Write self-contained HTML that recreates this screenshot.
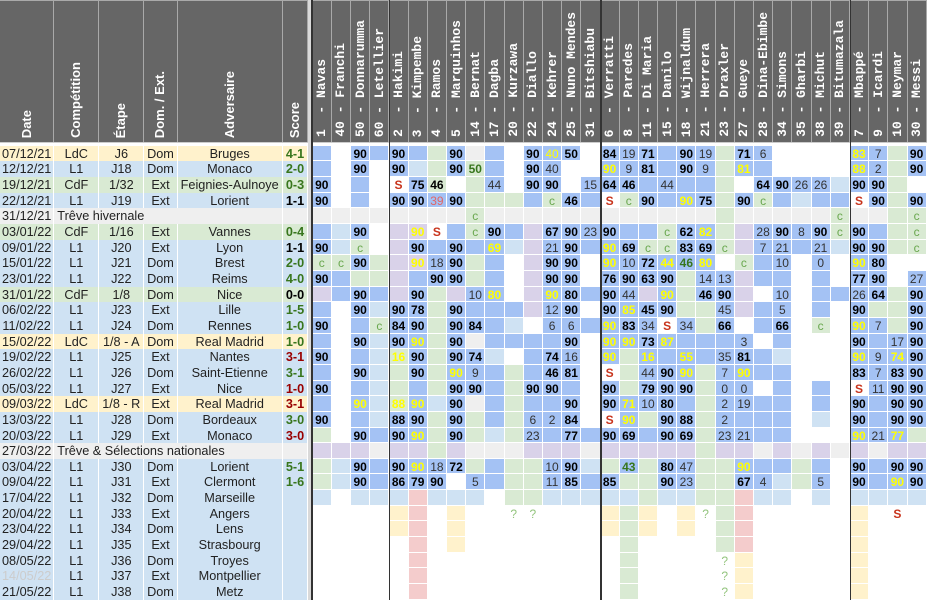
<!DOCTYPE html>
<html><head><meta charset="utf-8"><style>
*{margin:0;padding:0;box-sizing:border-box}
body{width:927px;height:600px;position:relative;overflow:hidden;background:#fff;font-family:"Liberation Sans",Arial,sans-serif}
.hd{position:absolute;top:0;height:142px;background:#666;border-top:1px solid #aaa;border-right:1px solid #a9a9a9;display:flex;justify-content:center;align-items:flex-end;padding-bottom:4px}
.hd span{writing-mode:vertical-rl;transform:rotate(180deg);color:#fff;font-weight:bold;font-size:13px;line-height:14px;white-space:pre}
#ph{position:absolute;left:312.7px;top:0;display:grid;grid-template-columns:repeat(32,19.2px)}
#ph div{height:142px;background:#666;border-top:1px solid #aaa;border-right:1px solid #a9a9a9;display:flex;justify-content:center;align-items:flex-end;padding-bottom:5px}
#ph span{writing-mode:vertical-rl;transform:rotate(180deg);color:#fff;font:bold 13px/13px "Liberation Mono",monospace;white-space:pre}
#lt{position:absolute;left:0;top:145.7px;width:308.3px}
#lt .r{display:grid;grid-template-columns:54.3px 45px 45px 33.4px 105px 25.6px;height:15.67px}
#lt i{font-style:normal;border-right:1px solid #fff;border-bottom:1px solid #fff;text-align:center;font-size:12.7px;line-height:16.3px;color:#222;white-space:nowrap;overflow:visible}
#lt .y i{background:#fff2cc}#lt .l i{background:#cfe2f3}#lt .g i{background:#d9ead3}#lt .e i{background:#efefef}
#lt i.t{grid-column:span 4;text-align:left;padding-left:3px}
#lt i.W{color:#38761d;font-weight:bold}#lt i.D{color:#000;font-weight:bold}#lt i.L{color:#990000;font-weight:bold}
#gd{position:absolute;left:312.7px;top:145.7px}
#gd .r{display:grid;grid-template-columns:repeat(32,19.2px);height:15.67px}
#gd i{font-style:normal;font-weight:bold;font-size:12px;line-height:16.3px;text-align:center;color:#000;border-right:1px solid #fff;border-bottom:1px solid #fff;overflow:hidden;white-space:nowrap;background:#fff}
#gd i.b{background:#a4c2f4}#gd i.l{background:#cfe2f3}#gd i.g{background:#d9ead3}#gd i.p{background:#d9d2e9}#gd i.e{background:#efefef}#gd i.k{background:#f4cccc}#gd i.y{background:#fff2cc}
#gd i.n{font-weight:normal;color:#333}
#gd i.Y{color:#ffff00}
#gd i.Yn{color:#ffff00;font-weight:normal}
#gd i.G{color:#38761d}
#gd i.R{color:#e06666;font-weight:normal}
#gd i.S{color:#c8341c}
#gd i.c{color:#6aa84f;font-weight:normal}
#gd i.q{color:#93c47d;font-weight:normal}
.ln{position:absolute;top:0;height:600px}
</style></head><body>
<div class="hd" style="left:0;width:54.3px"><span>Date</span></div>
<div class="hd" style="left:54.3px;width:45px"><span>Compétition</span></div>
<div class="hd" style="left:99.3px;width:45px"><span>Étape</span></div>
<div class="hd" style="left:144.3px;width:33.4px"><span>Dom. / Ext.</span></div>
<div class="hd" style="left:177.7px;width:105px"><span>Adversaire</span></div>
<div class="hd" style="left:282.7px;width:25.6px"><span>Score</span></div>
<div id="ph">
<div><span>1  - Navas</span></div><div><span>40 - Franchi</span></div><div><span>50 - Donnarumma</span></div><div><span>60 - Letellier</span></div>
<div><span>2  - Hakimi</span></div><div><span>3  - Kimpembe</span></div><div><span>4  - Ramos</span></div><div><span>5  - Marquinhos</span></div><div><span>14 - Bernat</span></div><div><span>17 - Dagba</span></div><div><span>20 - Kurzawa</span></div><div><span>22 - Diallo</span></div><div><span>24 - Kehrer</span></div><div><span>25 - Nuno Mendes</span></div><div><span>31 - Bitshiabu</span></div>
<div><span>6  - Verratti</span></div><div><span>8  - Paredes</span></div><div><span>11 - Di Maria</span></div><div><span>15 - Danilo</span></div><div><span>18 - Wijnaldum</span></div><div><span>21 - Herrera</span></div><div><span>23 - Draxler</span></div><div><span>27 - Gueye</span></div><div><span>28 - Dina-Ebimbe</span></div><div><span>34 - Simons</span></div><div><span>35 - Gharbi</span></div><div><span>38 - Michut</span></div><div><span>39 - Bitumazala</span></div>
<div><span>7  - Mbappé</span></div><div><span>9  - Icardi</span></div><div><span>10 - Neymar</span></div><div><span>30 - Messi</span></div>
</div>
<div style="position:absolute;left:0;top:142px;width:927px;height:1px;background:#ccc"></div>

<div id="lt">
<div class="r y"><i>07/12/21</i><i>LdC</i><i>J6</i><i>Dom</i><i>Bruges</i><i class="W">4-1</i></div>
<div class="r l"><i>12/12/21</i><i>L1</i><i>J18</i><i>Dom</i><i>Monaco</i><i class="W">2-0</i></div>
<div class="r g"><i>19/12/21</i><i>CdF</i><i>1/32</i><i>Ext</i><i>Feignies-Aulnoye</i><i class="W">0-3</i></div>
<div class="r l"><i>22/12/21</i><i>L1</i><i>J19</i><i>Ext</i><i>Lorient</i><i class="D">1-1</i></div>
<div class="r e"><i>31/12/21</i><i class="t">Trêve hivernale</i><i></i></div>
<div class="r g"><i>03/01/22</i><i>CdF</i><i>1/16</i><i>Ext</i><i>Vannes</i><i class="W">0-4</i></div>
<div class="r l"><i>09/01/22</i><i>L1</i><i>J20</i><i>Ext</i><i>Lyon</i><i class="D">1-1</i></div>
<div class="r l"><i>15/01/22</i><i>L1</i><i>J21</i><i>Dom</i><i>Brest</i><i class="W">2-0</i></div>
<div class="r l"><i>23/01/22</i><i>L1</i><i>J22</i><i>Dom</i><i>Reims</i><i class="W">4-0</i></div>
<div class="r g"><i>31/01/22</i><i>CdF</i><i>1/8</i><i>Dom</i><i>Nice</i><i class="D">0-0</i></div>
<div class="r l"><i>06/02/22</i><i>L1</i><i>J23</i><i>Ext</i><i>Lille</i><i class="W">1-5</i></div>
<div class="r l"><i>11/02/22</i><i>L1</i><i>J24</i><i>Dom</i><i>Rennes</i><i class="W">1-0</i></div>
<div class="r y"><i>15/02/22</i><i>LdC</i><i>1/8 - A</i><i>Dom</i><i>Real Madrid</i><i class="W">1-0</i></div>
<div class="r l"><i>19/02/22</i><i>L1</i><i>J25</i><i>Ext</i><i>Nantes</i><i class="L">3-1</i></div>
<div class="r l"><i>26/02/22</i><i>L1</i><i>J26</i><i>Dom</i><i>Saint-Etienne</i><i class="W">3-1</i></div>
<div class="r l"><i>05/03/22</i><i>L1</i><i>J27</i><i>Ext</i><i>Nice</i><i class="L">1-0</i></div>
<div class="r y"><i>09/03/22</i><i>LdC</i><i>1/8 - R</i><i>Ext</i><i>Real Madrid</i><i class="L">3-1</i></div>
<div class="r l"><i>13/03/22</i><i>L1</i><i>J28</i><i>Dom</i><i>Bordeaux</i><i class="W">3-0</i></div>
<div class="r l"><i>20/03/22</i><i>L1</i><i>J29</i><i>Ext</i><i>Monaco</i><i class="L">3-0</i></div>
<div class="r e"><i>27/03/22</i><i class="t">Trêve &amp; Sélections nationales</i><i></i></div>
<div class="r l"><i>03/04/22</i><i>L1</i><i>J30</i><i>Dom</i><i>Lorient</i><i class="W">5-1</i></div>
<div class="r l"><i>09/04/22</i><i>L1</i><i>J31</i><i>Ext</i><i>Clermont</i><i class="W">1-6</i></div>
<div class="r l"><i>17/04/22</i><i>L1</i><i>J32</i><i>Dom</i><i>Marseille</i><i></i></div>
<div class="r l"><i>20/04/22</i><i>L1</i><i>J33</i><i>Ext</i><i>Angers</i><i></i></div>
<div class="r l"><i>23/04/22</i><i>L1</i><i>J34</i><i>Dom</i><i>Lens</i><i></i></div>
<div class="r l"><i>29/04/22</i><i>L1</i><i>J35</i><i>Ext</i><i>Strasbourg</i><i></i></div>
<div class="r l"><i>08/05/22</i><i>L1</i><i>J36</i><i>Dom</i><i>Troyes</i><i></i></div>
<div class="r l"><i style="color:#ccc">14/05/22</i><i>L1</i><i>J37</i><i>Ext</i><i>Montpellier</i><i></i></div>
<div class="r l"><i>21/05/22</i><i>L1</i><i>J38</i><i>Dom</i><i>Metz</i><i></i></div>
</div>

<div id="gd">
<div class="r"><i class=b></i><i></i><i class=b>90</i><i class=b></i><i class=b>90</i><i class=b></i><i class=g></i><i class=b>90</i><i class=e></i><i class=b></i><i></i><i class=b>90</i><i class="b Yn">40</i><i class=b>50</i><i></i><i class=b>84</i><i class="b n">19</i><i class=b>71</i><i class=b></i><i class=b>90</i><i class="b n">19</i><i class=g></i><i class=b>71</i><i class="b n">6</i><i></i><i></i><i></i><i></i><i class="b Y">83</i><i class="b n">7</i><i class=g></i><i class=b>90</i></div>
<div class="r"><i class=b></i><i></i><i class=b>90</i><i></i><i class=b>90</i><i class=l></i><i class=g></i><i class=b>90</i><i class="g G">50</i><i class=b></i><i></i><i class=b>90</i><i class="b n">40</i><i></i><i></i><i class="b Y">90</i><i class="b n">9</i><i class=b>81</i><i class=b></i><i class=b>90</i><i class="b n">9</i><i class=g></i><i class="b Y">81</i><i class=b></i><i></i><i></i><i></i><i></i><i class="b Y">88</i><i class="b n">2</i><i class=g></i><i class=b>90</i></div>
<div class="r"><i class=b>90</i><i></i><i class=b></i><i></i><i class=S>S</i><i class=b>75</i><i class=g>46</i><i></i><i class=g></i><i class="b n">44</i><i></i><i class=b>90</i><i class=b>90</i><i></i><i class="b n">15</i><i class=b>64</i><i class=b>46</i><i class=b></i><i class="b n">44</i><i class=b></i><i class=b></i><i class=g></i><i></i><i class=b>64</i><i class=b>90</i><i class="b n">26</i><i class="b n">26</i><i class=l></i><i class=b>90</i><i class=b>90</i><i class=g></i><i></i></div>
<div class="r"><i class=b>90</i><i></i><i class=b></i><i></i><i class=b>90</i><i class=b>90</i><i class="b R">39</i><i class=b>90</i><i class=g></i><i class=g></i><i class=g></i><i class=b></i><i class="g c">c</i><i class=b>46</i><i class=b></i><i class=S>S</i><i class="g c">c</i><i class=b>90</i><i class=b></i><i class="b Y">90</i><i class=b>75</i><i class=g></i><i class=b>90</i><i class="g c">c</i><i class=b></i><i class=l></i><i class=b></i><i class=b></i><i class=S>S</i><i class=b>90</i><i class=g></i><i class=b>90</i></div>
<div class="r"><i class=e></i><i class=e></i><i class=e></i><i class=e></i><i class=e></i><i class=e></i><i class=e></i><i class=e></i><i class="g c">c</i><i class=e></i><i class=e></i><i class=e></i><i class=e></i><i class=e></i><i class=e></i><i class=e></i><i class=e></i><i class=e></i><i class=e></i><i class=e></i><i class=e></i><i class=g></i><i class=e></i><i class=e></i><i class=e></i><i class=e></i><i class=e></i><i class="g c">c</i><i class=e></i><i class=e></i><i class=g></i><i class="g c">c</i></div>
<div class="r"><i class=b></i><i class=l></i><i class=b>90</i><i></i><i class=p></i><i class="p Y">90</i><i class=S>S</i><i class=b></i><i class="g c">c</i><i class=b>90</i><i class=b></i><i class=p></i><i class=b>67</i><i class=b>90</i><i class="b n">23</i><i class=b>90</i><i class=b></i><i class=b></i><i class="g c">c</i><i class=b>62</i><i class="b Y">82</i><i class=g></i><i class=p></i><i class="b n">28</i><i class=b>90</i><i class="b n">8</i><i class=b>90</i><i class="g c">c</i><i class=b>90</i><i class=b></i><i class=g></i><i class="g c">c</i></div>
<div class="r"><i class=b>90</i><i class=l></i><i class="g c">c</i><i></i><i class=p></i><i class=b>90</i><i class=b></i><i class=b>90</i><i class=b></i><i class="b Y">69</i><i class=l></i><i class=p></i><i class="b n">21</i><i class=b>90</i><i class=b></i><i class="b Y">90</i><i class=b>69</i><i class="g c">c</i><i class="g c">c</i><i class=b>83</i><i class=b>69</i><i class="g c">c</i><i class=p></i><i class="b n">7</i><i class="b n">21</i><i class=b></i><i class="b n">21</i><i class=l></i><i class=b>90</i><i class=b>90</i><i class=g></i><i class="g c">c</i></div>
<div class="r"><i class="g c">c</i><i class="g c">c</i><i class=b>90</i><i class=g></i><i class=p></i><i class="p Y">90</i><i class="b n">18</i><i class=b>90</i><i class=g></i><i class=b></i><i></i><i class=p></i><i class=b>90</i><i class=b>90</i><i></i><i class="b Y">90</i><i class="b n">10</i><i class=b>72</i><i class="b Y">44</i><i class="b G">46</i><i class="b Y">80</i><i></i><i class="g c">c</i><i class=b></i><i class="b n">10</i><i></i><i class="b n">0</i><i></i><i class="b Y">90</i><i class=b>80</i><i></i><i></i></div>
<div class="r"><i class=b>90</i><i class=b></i><i class=g></i><i class=g></i><i class=p></i><i class=b></i><i class=b>90</i><i class=b>90</i><i class=g></i><i class=b></i><i></i><i class=p></i><i class=b>90</i><i class=b>90</i><i></i><i class=b>76</i><i class=b>90</i><i class=b>63</i><i class=b>90</i><i class=g></i><i class="b n">14</i><i class="b n">13</i><i class=p></i><i class=b></i><i class=b></i><i></i><i class=b></i><i></i><i class=b>77</i><i class=b>90</i><i></i><i class="b n">27</i></div>
<div class="r"><i class=p></i><i class=b></i><i class=b>90</i><i class=b></i><i class=p></i><i class=b>90</i><i class=g></i><i class=p></i><i class="b n">10</i><i class="b Y">80</i><i></i><i class=p></i><i class="b Y">90</i><i class=b>80</i><i class=b></i><i class=b>90</i><i class="b n">44</i><i class=p></i><i class="b Y">90</i><i class=g></i><i class=b>46</i><i class=b>90</i><i class=p></i><i></i><i class="b n">10</i><i></i><i class=b></i><i class=b></i><i class="b n">26</i><i class=b>64</i><i class=g></i><i class=b>90</i></div>
<div class="r"><i class=b></i><i></i><i class=b>90</i><i class=l></i><i class=b>90</i><i class=b>78</i><i class=g></i><i class=b>90</i><i class=b></i><i class=b></i><i class=b></i><i class=p></i><i class="b n">12</i><i class=b>90</i><i></i><i class=b>90</i><i class="b Y">85</i><i class=b>45</i><i class=b>90</i><i class=g></i><i class=g></i><i class="b n">45</i><i class=p></i><i class=b></i><i class="b n">5</i><i></i><i class=b></i><i></i><i class=b>90</i><i class=g></i><i class=g></i><i class=b>90</i></div>
<div class="r"><i class=b>90</i><i></i><i class=b></i><i class="g c">c</i><i class=b>84</i><i class=b>90</i><i class=g></i><i class=b>90</i><i class=b>84</i><i class=b></i><i class=l></i><i></i><i class="b n">6</i><i class="b n">6</i><i class=b></i><i class="b Y">90</i><i class=b>83</i><i class="b n">34</i><i class=S>S</i><i class="b n">34</i><i class=g></i><i class=b>66</i><i></i><i class=b></i><i class=b>66</i><i></i><i class="g c">c</i><i></i><i class="b Y">90</i><i class="b n">7</i><i class=g></i><i class=b>90</i></div>
<div class="r"><i class=b></i><i></i><i class=b>90</i><i class=l></i><i class=b>90</i><i class="b Y">90</i><i class=g></i><i class=b>90</i><i class=e></i><i class=b></i><i class=b></i><i class=b></i><i class=b></i><i class=b>90</i><i></i><i class="b Y">90</i><i class="b Y">90</i><i class=b>73</i><i class="b Y">87</i><i class=b></i><i class=b></i><i class=b></i><i class="b n">3</i><i></i><i class=b></i><i></i><i></i><i></i><i class=b>90</i><i class=b></i><i class="b n">17</i><i class=b>90</i></div>
<div class="r"><i class=b>90</i><i></i><i class=b></i><i class=l></i><i class="g Y">16</i><i class=b>90</i><i class=g></i><i class=b>90</i><i class=b>74</i><i class=l></i><i></i><i class=b></i><i class=b>74</i><i class="b n">16</i><i></i><i class="b Y">90</i><i class=g></i><i class="b Y">16</i><i class=b></i><i class="b Y">55</i><i class=b></i><i class="b n">35</i><i class=b>81</i><i class=b></i><i class=l></i><i></i><i></i><i></i><i class="b Y">90</i><i class="b n">9</i><i class="b Y">74</i><i class=b>90</i></div>
<div class="r"><i class=b></i><i></i><i class=b>90</i><i class=l></i><i class=g></i><i class=b>90</i><i class=g></i><i class="b Y">90</i><i class="b n">9</i><i class=b></i><i class=g></i><i class=b></i><i class=b>46</i><i class=b>81</i><i></i><i class=S>S</i><i class=g></i><i class="b n">44</i><i class=b>90</i><i class="b Y">90</i><i class=g></i><i class="b n">7</i><i class="b Y">90</i><i class=b></i><i class=b></i><i></i><i></i><i></i><i class=b>83</i><i class="b n">7</i><i class=b>83</i><i class=b>90</i></div>
<div class="r"><i class=b>90</i><i></i><i class=b></i><i class=l></i><i class=g></i><i class=b></i><i class=g></i><i class=b>90</i><i class=b>90</i><i class=b></i><i class=g></i><i class=b>90</i><i class=b>90</i><i class=b></i><i></i><i class=b>90</i><i class=g></i><i class=b>79</i><i class=b>90</i><i class=b>90</i><i class=g></i><i class="b n">0</i><i class="b n">0</i><i></i><i class=b></i><i></i><i class=b></i><i></i><i class=S>S</i><i class="b n">11</i><i class=b>90</i><i class=b>90</i></div>
<div class="r"><i class=b></i><i></i><i class="b Y">90</i><i class=l></i><i class="g Y">88</i><i class="b Y">90</i><i class=l></i><i class=b>90</i><i class=e></i><i class=b></i><i class=g></i><i class=b></i><i class=b></i><i class=b>90</i><i></i><i class=b>90</i><i class="b Y">71</i><i class="b n">10</i><i class=b>80</i><i class=b></i><i class=g></i><i class="b n">2</i><i class="b n">19</i><i class=b></i><i class=b></i><i></i><i class=b></i><i></i><i class=b>90</i><i class=b></i><i class=b>90</i><i class=b>90</i></div>
<div class="r"><i class=b>90</i><i></i><i class=b></i><i class=l></i><i class=b>88</i><i class=b>90</i><i class=g></i><i class=b>90</i><i class=g></i><i class=b></i><i class=g></i><i class="b n">6</i><i class="b n">2</i><i class=b>84</i><i></i><i class=S>S</i><i class="b Y">90</i><i class=g></i><i class=b>90</i><i class=b>88</i><i class=g></i><i class="b n">2</i><i class=b></i><i class=b></i><i class=b></i><i></i><i class=l></i><i></i><i class=b>90</i><i class=b></i><i class=b>90</i><i class=b>90</i></div>
<div class="r"><i class=g></i><i></i><i class=b>90</i><i class=b></i><i class=b>90</i><i class="b Y">90</i><i class=g></i><i class=b>90</i><i class=g></i><i class=l></i><i class=g></i><i class="b n">23</i><i class=b></i><i class=b>77</i><i class=b></i><i class=b>90</i><i class=b>69</i><i class=b></i><i class=b>90</i><i class=b>69</i><i class=g></i><i class="b n">23</i><i class="b n">21</i><i class=b></i><i class=b></i><i></i><i></i><i></i><i class="b Y">90</i><i class="b n">21</i><i class="b Y">77</i><i class=g></i></div>
<div class="r"><i class=p></i><i class=p></i><i class=p></i><i class=e></i><i class=p></i><i class=p></i><i class=g></i><i class=p></i><i class=e></i><i class=e></i><i class=e></i><i class=p></i><i class=p></i><i class=p></i><i class=e></i><i class=p></i><i class=p></i><i class=p></i><i class=p></i><i class=p></i><i class=g></i><i class=p></i><i class=p></i><i class=e></i><i class=p></i><i class=e></i><i class=p></i><i class=e></i><i class=p></i><i class=e></i><i class=p></i><i class=p></i></div>
<div class="r"><i class=g></i><i class=l></i><i class=b>90</i><i class=b></i><i class=b>90</i><i class="b Y">90</i><i class="b n">18</i><i class=b>72</i><i class=g></i><i class=b></i><i class=g></i><i class=g></i><i class="b n">10</i><i class=b>90</i><i class=l></i><i class=g></i><i class="b G">43</i><i class=g></i><i class=b>80</i><i class="b n">47</i><i class=g></i><i class=g></i><i class="b Y">90</i><i class=b></i><i class=b></i><i class=g></i><i class=b></i><i></i><i class=b>90</i><i class=b></i><i class=b>90</i><i class=b>90</i></div>
<div class="r"><i class=g></i><i class=l></i><i class=b>90</i><i class=b></i><i class=b>86</i><i class=b>79</i><i class=b>90</i><i></i><i class="b n">5</i><i class=b></i><i class=g></i><i class=g></i><i class="b n">11</i><i class=b>85</i><i class=b></i><i class=b>85</i><i class=g></i><i class=g></i><i class=b>90</i><i class="b n">23</i><i class=g></i><i class=g></i><i class=b>67</i><i class="b n">4</i><i class=l></i><i class=g></i><i class="b n">5</i><i></i><i class=b>90</i><i class=b></i><i class="b Y">90</i><i class=b>90</i></div>
<div class="r"><i class=l></i><i></i><i class=l></i><i class=l></i><i class=l></i><i class=k></i><i class=l></i><i class=l></i><i class=l></i><i></i><i class=g></i><i class=g></i><i class=l></i><i class=l></i><i class=l></i><i class=l></i><i class=l></i><i class=g></i><i class=l></i><i class=l></i><i class=g></i><i class=g></i><i class=k></i><i class=l></i><i class=l></i><i></i><i class=l></i><i></i><i class=l></i><i class=l></i><i class=l></i><i class=l></i></div>
<div class="r"><i></i><i></i><i></i><i></i><i class=y></i><i class=k></i><i></i><i class=y></i><i></i><i></i><i class=q>?</i><i class=q>?</i><i></i><i></i><i></i><i class=y></i><i class=g></i><i class=y></i><i></i><i class=y></i><i class=q>?</i><i class=g></i><i class=k></i><i></i><i></i><i></i><i></i><i></i><i class=y></i><i></i><i class=S>S</i><i></i></div>
<div class="r"><i></i><i></i><i></i><i></i><i class=y></i><i class=k></i><i></i><i class=y></i><i></i><i></i><i></i><i></i><i></i><i></i><i></i><i class=y></i><i class=g></i><i class=y></i><i></i><i class=y></i><i></i><i class=g></i><i class=k></i><i></i><i></i><i></i><i></i><i></i><i class=y></i><i></i><i></i><i></i></div>
<div class="r"><i></i><i></i><i></i><i></i><i></i><i class=k></i><i></i><i class=y></i><i></i><i></i><i></i><i></i><i></i><i></i><i></i><i></i><i class=g></i><i></i><i></i><i></i><i></i><i class=g></i><i class=k></i><i></i><i></i><i></i><i></i><i></i><i class=y></i><i></i><i></i><i></i></div>
<div class="r"><i></i><i></i><i></i><i></i><i></i><i class=k></i><i></i><i></i><i></i><i></i><i></i><i></i><i></i><i></i><i></i><i></i><i class=g></i><i></i><i></i><i></i><i></i><i class=q>?</i><i class=y></i><i></i><i></i><i></i><i></i><i></i><i class=y></i><i></i><i></i><i></i></div>
<div class="r"><i></i><i></i><i></i><i></i><i></i><i class=k></i><i></i><i></i><i></i><i></i><i></i><i></i><i></i><i></i><i></i><i></i><i class=g></i><i></i><i></i><i></i><i></i><i class=q>?</i><i class=y></i><i></i><i></i><i></i><i></i><i></i><i class=y></i><i></i><i></i><i></i></div>
<div class="r"><i></i><i></i><i></i><i></i><i></i><i class=k></i><i></i><i></i><i></i><i></i><i></i><i></i><i></i><i></i><i></i><i></i><i class=g></i><i></i><i></i><i></i><i></i><i class=q>?</i><i class=y></i><i></i><i></i><i></i><i></i><i></i><i class=y></i><i></i><i></i><i></i></div>
</div>

<div class="ln" style="left:308.3px;width:2.7px;background:#d9d9d9"></div>
<div class="ln" style="left:311px;width:1.5px;background:#333"></div>
<div class="ln" style="left:388.8px;width:1.5px;background:#333"></div>
<div class="ln" style="left:600px;width:1.5px;background:#333"></div>
<div class="ln" style="left:849.6px;width:1.5px;background:#333"></div>
</body></html>
